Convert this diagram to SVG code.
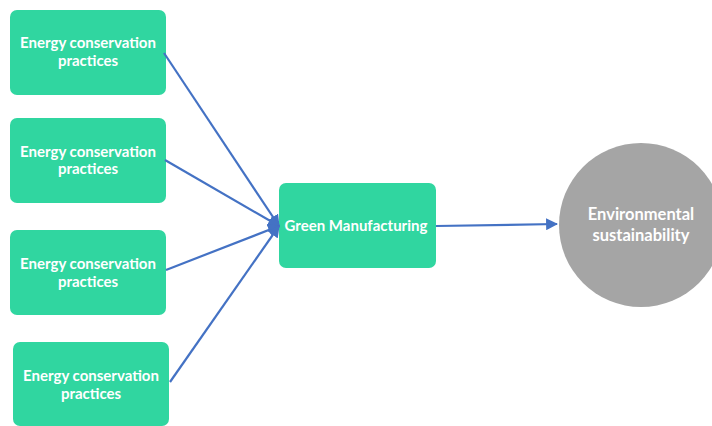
<svg xmlns="http://www.w3.org/2000/svg" width="712" height="426" viewBox="0 0 712 426">
  <style>
    .box { fill: #30D6A0; }
    .circ { fill: #A5A5A5; }
    .lbl { font-family: Lato, "Liberation Sans", sans-serif; font-weight: bold; font-size: 15px; fill: #FFFFFF; text-anchor: middle; }
    .big { font-size: 16.5px; }
    .edge { stroke: #4472C4; stroke-width: 2.2; fill: none; marker-end: url(#arrow); }
  </style>
  <defs>
    <marker id="arrow" viewBox="0 0 10 10" refX="9" refY="5" markerWidth="5.5" markerHeight="5.5" orient="auto" markerUnits="strokeWidth">
      <path d="M0,0 L10,5 L0,10 Z" fill="#4472C4"/>
    </marker>
  </defs>
  <rect width="712" height="426" fill="#FFFFFF"/>

  <g id="practice1">
    <rect class="box" x="10" y="10" width="156" height="85" rx="7"/>
    <text class="lbl" x="88" y="48">Energy conservation</text>
    <text class="lbl" x="88" y="66">practices</text>
  </g>
  <g id="practice2">
    <rect class="box" x="10" y="118" width="156" height="85" rx="7"/>
    <text class="lbl" x="88" y="157">Energy conservation</text>
    <text class="lbl" x="88" y="174">practices</text>
  </g>
  <g id="practice3">
    <rect class="box" x="10" y="230" width="156" height="85" rx="7"/>
    <text class="lbl" x="88" y="269">Energy conservation</text>
    <text class="lbl" x="88" y="287">practices</text>
  </g>
  <g id="practice4">
    <rect class="box" x="13" y="342" width="156" height="84" rx="7"/>
    <text class="lbl" x="91" y="381">Energy conservation</text>
    <text class="lbl" x="91" y="399">practices</text>
  </g>
  <g id="green-manufacturing">
    <rect class="box" x="279" y="183" width="157" height="85" rx="7"/>
    <text class="lbl" x="356" y="231">Green Manufacturing</text>
  </g>
  <g id="environmental-sustainability">
    <circle class="circ" cx="641" cy="225" r="82"/>
    <text class="lbl big" x="641" y="220">Environmental</text>
    <text class="lbl big" x="641" y="241">sustainability</text>
  </g>

  <g id="connectors">
    <line class="edge" x1="164" y1="53" x2="279" y2="226"/>
    <line class="edge" x1="165" y1="160" x2="279" y2="226"/>
    <line class="edge" x1="166" y1="270" x2="279" y2="226"/>
    <line class="edge" x1="170" y1="382" x2="279" y2="226"/>
    <line class="edge" x1="436" y1="226" x2="557" y2="224"/>
  </g>
</svg>
